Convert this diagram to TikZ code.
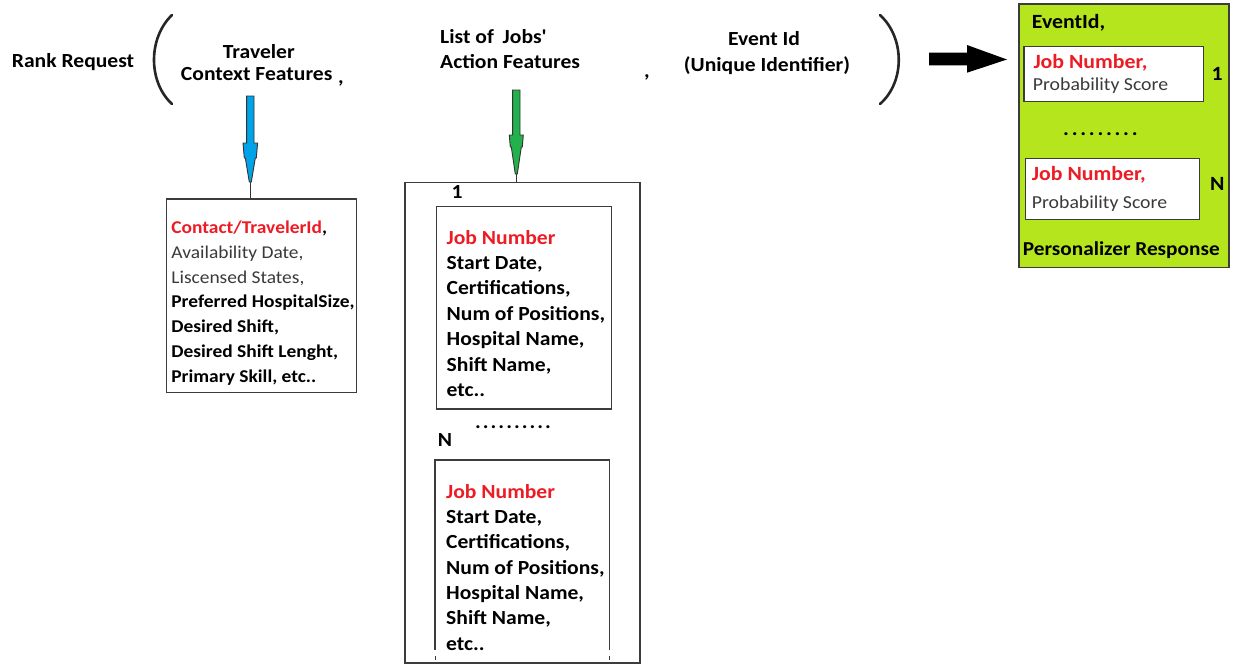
\documentclass[tikz,border=0pt]{standalone}
\usepackage{fontspec}
\setmainfont{Carlito}[FakeStretch=1.08]
\usetikzlibrary{calc}
\definecolor{pred}{HTML}{ED1C24}
\definecolor{lime}{HTML}{B5E61D}
\definecolor{tblue}{HTML}{00A2E8}
\definecolor{tgreen}{HTML}{22B14C}
\definecolor{txtgray}{HTML}{3A3A3A}
\definecolor{edge}{HTML}{3C3C3C}
\newcommand{\dotsrow}[2]{\foreach \k in {1,...,#1}{.\kern#2}}
\begin{document}
\begin{tikzpicture}[x=1pt,y=-1pt,
  t/.style={inner sep=0pt, anchor=base west},
  tc/.style={inner sep=0pt, anchor=base},
  toplab/.style={font=\fontsize{20}{23}\selectfont\bfseries},
  ctxf/.style={font=\fontsize{18}{22}\selectfont},
  jobf/.style={font=\fontsize{20}{23}\selectfont\bfseries},
  respf/.style={font=\fontsize{18.3}{22}\selectfont},
  respb/.style={font=\fontsize{20.2}{22}\selectfont\bfseries},
  box/.style={draw=edge, line width=1.2pt, inner sep=0pt, anchor=north west},
  paren/.style={draw=black!85, line width=2.6pt, line cap=round},
  arrowout/.style={draw=black!80, line width=0.9pt, line join=miter}]
\useasboundingbox[fill=white] (0,0) rectangle (1235,665);

% ---- top labels
\node[tc, toplab] (rank) at (73,67) {Rank Request};
\draw[paren] (172,15) .. controls (148,38) and (148,82) .. (172,104);
\node[tc, toplab] (trav1) at (258.8,58.3) {Traveler};
\node[tc, toplab] (trav2) at (256.7,80) {Context Features};
\node[tc, toplab] (comma1) at (341,83) {,};
\node[t, toplab] (jobs1) at (440,43.3) {List of\hspace{4pt} Jobs\textquotesingle};
\node[t, toplab] (jobs2) at (440,68.3) {Action Features};
\node[tc, toplab] (comma2) at (647,77) {,};
\node[tc, toplab] (ev1) at (764,45.7) {Event Id};
\node[tc, toplab] (ev2) at (767,71.7) {(Unique Identifier)};
\draw[paren] (880,15) .. controls (905,38) and (905,82) .. (880,104);

% ---- context box
\node[box, minimum width=190.3pt, minimum height=193.7pt] (ctxbox) at (165.7,198.3) {};
\node[t, ctxf] (c1) at (171.2,233.5) {\bfseries\textcolor{pred}{Contact/TravelerId},};
\node[t, ctxf, text=txtgray] (c2) at (171.2,258.3) {Availability Date,};
\node[t, ctxf, text=txtgray] (c3) at (171.2,283.1) {Liscensed States,};
\node[t, ctxf] (c4) at (171.2,307.9) {\bfseries Preferred HospitalSize,};
\node[t, ctxf] (c5) at (171.2,332.7) {\bfseries Desired Shift,};
\node[t, ctxf] (c6) at (171.2,357.5) {\bfseries Desired Shift Lenght,};
\node[t, ctxf] (c7) at (171.2,382.3) {\bfseries Primary Skill, etc..};

% ---- blue arrow
\coordinate (bs) at (250.3,96);
\coordinate (be) at (ctxbox.north -| bs);
\filldraw[arrowout, fill=tblue, shift={(bs)}] (-3.7,0) -- (3.7,0) -- (3.7,47) -- (7.3,47) -- (6,62) -- (5,62) -- (1,86) -- (-1,86) -- (-5,62) -- (-6,62) -- (-7.3,47) -- (-3.7,47) -- cycle;
\draw[black!80, line width=0.9pt] ($(bs)+(0,86)$) -- (be);

% ---- job list box
\node[box, minimum width=235pt, minimum height=480.6pt] (jobbox) at (404.3,181.7) {};
\node[t, jobf] (one) at (451.5,198.3) {1};
\node[box, minimum width=174.7pt, minimum height=202.3pt] (job1) at (436,206) {};
\node[t, jobf, text=pred] (j11) at (446.5,244) {Job Number};
\node[t, jobf] (j12) at (446.5,269.4) {Start Date,};
\node[t, jobf] (j13) at (446.5,294.8) {Certifications,};
\node[t, jobf] (j14) at (446.5,320.2) {Num of Positions,};
\node[t, jobf] (j15) at (446.5,345.6) {Hospital Name,};
\node[t, jobf] (j16) at (446.5,371) {Shift Name,};
\node[t, jobf] (j17) at (446.5,396.4) {etc..};
\node[t, jobf] (jdots) at (475,428.5) {\dotsrow{10}{2.0pt}};
\node[t, jobf] (nn) at (437.7,446.7) {N};
\draw[draw=edge, line width=1.2pt] (435,650) -- (435,460) -- (609.3,460) -- (609.3,650);
\draw[draw=edge, line width=1pt] (435,656) -- (435,660) (609.3,656) -- (609.3,660);
\coordinate (job2) at (435,460);
\node[t, jobf, text=pred] (j21) at (446,498.3) {Job Number};
\node[t, jobf] (j22) at (446,523.6) {Start Date,};
\node[t, jobf] (j23) at (446,548.9) {Certifications,};
\node[t, jobf] (j24) at (446,574.2) {Num of Positions,};
\node[t, jobf] (j25) at (446,599.5) {Hospital Name,};
\node[t, jobf] (j26) at (446,624.8) {Shift Name,};
\node[t, jobf] (j27) at (446,650.1) {etc..};

% ---- green arrow
\coordinate (gs) at (516.3,90);
\coordinate (ge) at (jobbox.north -| gs);
\filldraw[arrowout, fill=tgreen, shift={(gs)}] (-3.7,0) -- (3.7,0) -- (3.7,45) -- (7,45) -- (6,57) -- (5,57) -- (1,84) -- (-1,84) -- (-5,57) -- (-6,57) -- (-7,45) -- (-3.7,45) -- cycle;
\draw[black!80, line width=0.9pt] ($(gs)+(0,84)$) -- (ge);

% ---- response box
\node[box, fill=lime, minimum width=210pt, minimum height=263.4pt] (resp) at (1018.3,3.3) {};
\node[t, respb] (evid) at (1031.7,28.3) {EventId,};
\node[box, fill=white, minimum width=179.4pt, minimum height=55pt] (r1) at (1023.3,46) {};
\node[t, respb, text=pred] (r11) at (1033.3,68.3) {Job Number,};
\node[t, respf, text=txtgray] (r12) at (1032.7,90.7) {Probability Score};
\node[t, respb] (rone) at (1211.5,80) {1};
\node[t, respb] (rdots) at (1063,135.5) {\dotsrow{9}{2.75pt}};
\node[box, fill=white, minimum width=174pt, minimum height=61.3pt] (r2) at (1025,157.7) {};
\node[t, respb, text=pred] (r21) at (1031.7,180) {Job Number,};
\node[t, respf, text=txtgray] (r22) at (1031.7,208.3) {Probability Score};
\node[t, respb] (rn) at (1210,190) {N};
\node[tc, font=\fontsize{19.7}{22}\selectfont\bfseries] (presp) at (1121.3,255) {Personalizer Response};

% ---- black arrow
\coordinate (ks) at (929,59);
\coordinate (ke) at (resp.west |- ks);
\fill[black, shift={(ks)}] (0,-6.3) -- (38,-6.3) -- (38,-14) -- (78,0.5) -- (38,13.7) -- (38,6.3) -- (0,6.3) -- cycle;
\end{tikzpicture}
\end{document}
